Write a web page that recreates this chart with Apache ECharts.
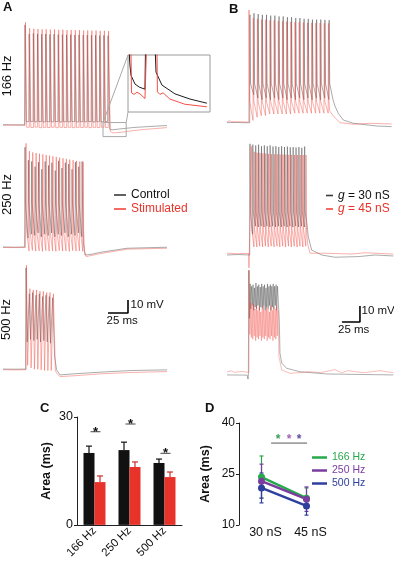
<!DOCTYPE html>
<html><head><meta charset="utf-8">
<script src="https://cdn.jsdelivr.net/npm/echarts@6/dist/echarts.min.js"></script>
<style>html,body{margin:0;padding:0;background:#fff}#c{width:394px;height:561px}</style>
</head><body><div id="c"></div>
<script>
// ================= DATA (time in ms, membrane potential in mV) =================
// ---- Panel A, 166 Hz ----
const a166CtrlPre = [[0,-64.8],[12,-65],[27,-64.9]];
const a166CtrlT = [27.5,32.7,37.9,43.1,48.3,53.4,58.6,63.8,69.0,74.2,79.4,84.6,89.8,95.0,100.2,105.3,110.5,115.7,120.9,126.1,131.3];
const a166CtrlPeak = [12,5,5.5,5,4.8,5,4.6,4.8,4.5,4.6,4.3,4.5,4.2,4.4,4.1,4.2,4,4.1,3.8,4,3.7];
const a166CtrlTrough = [-62.5,-62.3,-62.6,-62.4,-62.7,-62.5,-62.6,-62.4,-62.7,-62.5,-62.6,-62.4,-62.7,-62.5,-62.6,-62.4,-62.7,-62.5,-62.6,-62.5];
const a166CtrlPost = [[133.5,-68.3],[136.3,-68.8],[146,-68.1],[165,-66.9],[184,-66.2],[205,-65.5]];
const a166StimPre = [[0,-65.3],[12,-65.1],[27.5,-65.3]];
const a166StimT = [28.1,33.3,38.5,43.7,48.9,54.0,59.2,64.4,69.6,74.8,80.0,85.2,90.4,95.6,100.8,105.9,111.1,116.3,121.5,126.7,131.9];
const a166StimPeak = [14,9.5,9,8.8,8.6,8.7,8.4,8.5,8.2,8.3,8,8.1,7.9,8,7.7,7.8,7.6,7.7,7.4,7.5,7.3];
const a166StimTrough = [-66.8,-67,-66.7,-67.1,-66.9,-67,-66.8,-67.1,-66.9,-67,-66.8,-67.1,-66.9,-67,-66.8,-67.1,-66.9,-67,-66.8,-67];
const a166StimPost = [[134,-70],[137.5,-71.2],[146,-70.8],[165,-69.2],[184,-68.1],[205,-67.1]];
// inset (magnified end of the 166 Hz train)
const insetCtrl = [[0.3,-55],[0.6,-59.5],[1.06,-61.9],[2.47,-63.6],[4,-64.2],[6.0,-64.6],[6.36,-50],[9.19,-50],[9.9,-61.3],[12.0,-63.8],[16.6,-65.5],[21.9,-66.5],[27.9,-67.3]];
const insetStim = [[0.88,-50],[1.24,-65.3],[2.1,-65.6],[3.2,-65.2],[4.24,-65.5],[6.0,-66.4],[6.7,-66.5],[6.9,-50],[10.1,-50],[10.4,-65.1],[11.3,-65.6],[12.4,-65.3],[14.8,-66.5],[20.1,-67.5],[27.9,-68.0]];
const insetWindow = {t:[125,154], v:[-74,-63.2]};
// ---- Panel A, 250 Hz ----
const a250CtrlPre = [[0,-64.8],[14,-65],[27,-64.8]];
const a250CtrlT = [27.5,31.7,35.9,40.1,44.3,48.5,52.7,56.9,61.1,65.3,69.5,73.7,77.9,82.1,86.3,90.5,94.7,98.9];
const a250CtrlPeak = [12,2,1,-3,0.5,-5,1,-2,0,-6,1.5,-4,0,-1,-5,0.5,-3,1];
const a250CtrlKnee = -31;
const a250CtrlTrough = [-58,-55,-56,-54,-57,-55,-56,-54,-57,-55,-56,-54,-57,-55,-56,-54,-57];
const a250CtrlPost = [[100.5,-62],[102.5,-71],[110,-70.5],[121,-69],[155,-65.8],[205,-65]];
const a250StimPre = [[0,-65.2],[14,-65.3],[28,-65.2]];
const a250StimT = [28.8,33.0,37.2,41.4,45.6,49.8,54.0,58.2,62.4,66.6,70.8,75.0,79.2,83.4,87.6,91.8,96.0,100.2];
const a250StimPeak = [15,9,8,7.5,7,6.5,6,5.5,5,4.5,4,3.5,3,2.5,2,1.5,1,0.8];
const a250StimKnee = -52;
const a250StimTrough = [-68,-67.5,-68,-67.8,-68.2,-67.6,-68,-67.8,-68.2,-67.6,-68,-67.8,-68.2,-67.6,-68,-67.8,-68.2];
const a250StimPost = [[102,-68],[104,-72.2],[121,-70],[155,-66.5],[205,-65.8]];
// ---- Panel A, 500 Hz ----
const a500CtrlPre = [[0,-64.9],[14,-65],[28.3,-64.9]];
const a500CtrlT = [28.75,32.9,37.1,41.3,45.4,49.6,53.8,57.9,62.1];
const a500CtrlPeak = [13,-7,-6,-8,-7,-9,-8,-9,-10];
const a500CtrlTrough = [-44,-42,-43,-42,-44,-43,-44,-45];
const a500CtrlPost = [[64.5,-55],[67,-65.5],[71.3,-69.4],[90,-68.5],[121,-67.3],[160,-66],[205,-65.5]];
const a500StimPre = [[0,-65.4],[14,-65.5],[28.8,-65.4]];
const a500StimT = [29.3,33.6,37.8,42.0,46.2,50.4,54.6,58.8,63.0];
const a500StimPeak = [15,-3,-4,-4,-5,-5,-6,-6,-7];
const a500StimTrough = [-62,-64,-65,-65,-65.5,-66,-66,-66];
const a500StimPost = [[65.5,-66],[67,-68],[71.3,-70.7],[90,-70],[121,-68.6],[160,-67.5],[205,-66.8]];
const scaleBarA = {t:131.25, v:-21.7, dt:25, dv:10};
// ---- Panel B, row 1 (166 Hz) ----
const b1CtrlPre = [[0,-65.4],[15,-65.3],[31.5,-65.5]];
const b1CtrlT = [31.9,37.5,43.3,49.1,54.9,60.7,66.5,72.3,78.1,83.9,89.7,95.5,101.3,107.1,112.9,118.7,124.5,130.3,136.1,141.9];
const b1CtrlPeak = [2,3,2.5,2,2,1.5,1.5,1,1,0.5,0.5,0,0,-0.5,-0.5,-1,-1,-1,-1.2,-1.3];
const b1CtrlKnee = -41;
const b1CtrlTrough = [-48,-50,-51,-50,-51,-50,-51,-50,-51,-50,-51,-50,-51,-50,-51,-50,-51,-50,-51];
const b1CtrlPost = [[147.2,-51],[150,-55],[154.6,-59.6],[161.5,-63.75],[175.4,-65.8],[207.9,-67.5],[228.75,-67.9]];
const b1StimPre = [[0,-65],[3,-64.2],[6,-64.8],[30.2,-65]];
const b1StimT = [30.6,36.5,42.3,48.1,53.9,59.7,65.5,71.3,77.1,82.9,88.7,94.5,100.3,106.1,111.9,117.7,123.5,129.3,135.1,140.9];
const b1StimPeak = [5,0,-0.5,-1,-1,-1.5,-1.5,-2,-2,-2.2,-2.4,-2.5,-2.6,-2.8,-3,-3,-3.1,-3.2,-3.3,-3.3];
const b1StimKnee = -52;
const b1StimTrough = [-64,-62,-61,-61,-60,-60,-60,-60,-60,-60,-59.5,-59.5,-59.5,-59.5,-59.5,-59.5,-59.5,-59.5,-59.5];
const b1StimPost = [[142.5,-58],[148.6,-61.7],[156.9,-65.4],[175.4,-66.4],[198.6,-65.8],[228.75,-66.25]];
// ---- Panel B, row 2 (250 Hz) ----
const b2CtrlPre = [[0,-65],[15,-64.7],[31.5,-65]];
const b2CtrlT = [31.9,35.9,39.9,43.9,47.9,51.9,55.9,59.9,63.9,67.9,71.9,75.9,79.9,83.9,87.9,91.9,95.9,99.9,103.9,107.9];
const b2CtrlPeak = [4.5,4,3.5,4,3,3.5,3,3.5,2.8,3,2.5,3,2.5,2.8,2.3,2.5,2.2,2.5,2,2.8];
const b2CtrlKnee = -38;
const b2CtrlTrough = [-52,-47,-47.5,-47,-47.5,-47,-47.5,-47,-47.5,-47,-47.5,-47,-47.5,-47,-47.5,-47,-47.5,-47,-47.5];
const b2CtrlPost = [[111,-45],[112.9,-53.6],[117.6,-61.9],[131.5,-65],[150,-66.4],[182.4,-66],[205.6,-65],[231,-65.6]];
const b2StimPre = [[0,-63.9],[15,-64.2],[30,-64],[30.5,-73],[31,-64]];
const b2StimT = [33.8,37.8,41.8,45.8,49.8,53.8,57.8,61.8,65.8,69.8,73.8,77.8,81.8,85.8,89.8,93.8,97.8,101.8,105.8,109.8];
const b2StimPeak = [3,-0.5,-1,-1.2,-1.5,-1.5,-1.8,-2,-2,-2,-2.2,-2.2,-2.3,-2.4,-2.4,-2.5,-2.5,-2.5,-2.5,-2.5];
const b2StimKnee = -49;
const b2StimTrough = [-60,-60,-59.5,-60,-59.5,-60,-59.5,-60,-59.5,-60,-59.5,-60,-59.5,-60,-59.5,-60,-59.5,-60,-59.5];
const b2StimPost = [[112,-58],[115.3,-63.9],[136.1,-63.9],[173.2,-64.4],[191.7,-63.6],[231,-64.4]];
// ---- Panel B, row 3 (500 Hz) ----
const b3CtrlPre = [[0,-65.4],[28,-65.5],[29.2,-68],[29.7,-65.4]];
const b3CtrlT = [30.2,32.2,34.2,36.2,38.2,40.2,42.2,44.2,46.2,48.2,50.2,52.2,54.2,56.2,58.2,60.2,62.2,64.2,66.2,68.2,70.2];
const b3CtrlPeak = [0,-8.5,-10,-9,-11,-8,-10,-9,-10.5,-8.5,-10,-9,-11,-8.5,-10,-9,-10,-8.5,-10,-9,-10];
const b3CtrlTrough = [-30,-24,-22,-25,-23,-24,-22,-25,-23,-24,-22,-25,-23,-24,-22,-25,-23,-24,-22,-25];
const b3CtrlPost = [[72.6,-31],[73.6,-51.9],[76,-58],[82.9,-61.25],[101.4,-63.4],[138.5,-64.8],[231,-65.4]];
const b3StimPre = [[0,-63.5],[6,-62.8],[10,-63.8],[20,-63.2],[30.5,-63.8]];
const b3StimT = [30.9,32.9,34.9,36.9,38.9,40.9,42.9,44.9,46.9,48.9,50.9,52.9,54.9,56.9,58.9,60.9,62.9,64.9,66.9,68.9,70.9];
const b3StimPeak = [0,-20,-22,-21,-24,-22,-25,-23,-26,-24,-22,-25,-23,-24,-26,-22,-25,-23,-24,-22,-25];
const b3StimTrough = [-40,-42,-43,-41,-44,-42,-43,-41,-44,-42,-43,-41,-44,-42,-43,-41,-44,-42,-43,-41];
const b3StimPost = [[72.2,-54],[76,-62.3],[87.5,-64.4],[115.3,-63.4],[129.2,-64],[150,-62.1],[159.3,-64],[168.5,-62.75],[189.3,-64],[212.5,-62.75],[231,-64]];
const scaleBarB = {t:159.7, v:-32.3, dt:25, dv:10};
// ---- Panel C ----
const cCategories = ['166 Hz','250 Hz','500 Hz'];
const cControl = [20, 20.8, 17.2];
const cControlErr = [1.9, 2.2, 1.1];
const cStim = [11.9, 16.1, 13.3];
const cStimErr = [1.7, 1.4, 1.4];
const cSigLine = [25.9, 28.05, 19.9];
// ---- Panel D ----
const dConductance = [30, 45];
const d166 = [24.1, 17.9], d166Err = [6.2, 3.0];
const d250 = [22.9, 17.6], d250Err = [5.0, 3.6];
const d500 = [20.9, 15.6], d500Err = [4.4, 2.7];
const dSigStarX = [35.5, 39.2, 42.5];
const dSigStarY = 35.6;
const dSigBar = [[33.2, 34.1], [45.2, 34.1]];

// ================= BUILD =================
const FONT = "'Liberation Sans', Arial, Helvetica, sans-serif";
const CTRL = '#3a3a3a', STIM = '#f0463d';
const GREEN = '#27a94b', PURPLE = '#7b3c9f', BLUE = '#2e3f9e';

function spikeTrace(pre, times, peaks, troughs, post, o) {
  const pts = pre.slice();
  let prev = pre[pre.length - 1][1];
  for (let i = 0; i < times.length; i++) {
    const t = times[i];
    pts.push([t - o.rise, prev]);
    pts.push([t, peaks[i]]);
    if (o.knee !== undefined) pts.push([t + o.kneeDt, o.knee]);
    if (i < troughs.length) {
      const tEnd = o.knee !== undefined ? times[i + 1] - o.rise - 0.05 : t + o.fall;
      pts.push([tEnd, troughs[i]]);
      prev = troughs[i];
    }
  }
  return pts.concat(post);
}
function tr(name, data, color, gi, w, op) {
  return {type:'line', name, data, xAxisIndex:gi, yAxisIndex:gi, symbol:'none', showSymbol:false,
    lineStyle:{color, width:w || 0.6, opacity:op || 0.72}, itemStyle:{color}, silent:true, animation:false, clip:true};
}
const oA = {rise:0.4, fall:1.5};
const oB = {rise:0.3, fall:0.9};

const series = [
  tr('Control', spikeTrace(a166CtrlPre,a166CtrlT,a166CtrlPeak,a166CtrlTrough,a166CtrlPost,oA), CTRL, 0),
  tr('Stimulated', spikeTrace(a166StimPre,a166StimT,a166StimPeak,a166StimTrough,a166StimPost,oA), STIM, 0),
  tr('Control', spikeTrace(a250CtrlPre,a250CtrlT,a250CtrlPeak,a250CtrlTrough,a250CtrlPost,{rise:0.4,knee:a250CtrlKnee,kneeDt:0.5}), CTRL, 1),
  tr('Stimulated', spikeTrace(a250StimPre,a250StimT,a250StimPeak,a250StimTrough,a250StimPost,{rise:0.4,knee:a250StimKnee,kneeDt:0.6}), STIM, 1),
  tr('Control', spikeTrace(a500CtrlPre,a500CtrlT,a500CtrlPeak,a500CtrlTrough,a500CtrlPost,oA), CTRL, 2),
  tr('Stimulated', spikeTrace(a500StimPre,a500StimT,a500StimPeak,a500StimTrough,a500StimPost,oA), STIM, 2),
  tr('Control', insetCtrl, '#111', 3, 1, 0.95),
  tr('Stimulated', insetStim, STIM, 3, 1, 0.95),
  tr('g = 30 nS', spikeTrace(b1CtrlPre,b1CtrlT,b1CtrlPeak,b1CtrlTrough,b1CtrlPost,{rise:0.3,knee:b1CtrlKnee,kneeDt:0.8}), CTRL, 4),
  tr('g = 45 nS', spikeTrace(b1StimPre,b1StimT,b1StimPeak,b1StimTrough,b1StimPost,{rise:0.3,knee:b1StimKnee,kneeDt:0.8}), STIM, 4),
  tr('g = 30 nS', spikeTrace(b2CtrlPre,b2CtrlT,b2CtrlPeak,b2CtrlTrough,b2CtrlPost,{rise:0.3,knee:b2CtrlKnee,kneeDt:0.6}), CTRL, 5),
  tr('g = 45 nS', spikeTrace(b2StimPre,b2StimT,b2StimPeak,b2StimTrough,b2StimPost,{rise:0.3,knee:b2StimKnee,kneeDt:0.6}), STIM, 5),
  tr('g = 30 nS', spikeTrace(b3CtrlPre,b3CtrlT,b3CtrlPeak,b3CtrlTrough,b3CtrlPost,oB), CTRL, 6, 0.6, 0.68),
  tr('g = 45 nS', spikeTrace(b3StimPre,b3StimT,b3StimPeak,b3StimTrough,b3StimPost,oB), STIM, 6, 0.6, 0.6),
  // scale bars
  {type:'line', data:[[scaleBarA.t,scaleBarA.v],[scaleBarA.t+scaleBarA.dt,scaleBarA.v],[scaleBarA.t+scaleBarA.dt,scaleBarA.v+scaleBarA.dv]],
   xAxisIndex:2, yAxisIndex:2, symbol:'none', lineStyle:{color:'#000', width:1.6}, silent:true},
  {type:'line', data:[[scaleBarB.t,scaleBarB.v],[scaleBarB.t+scaleBarB.dt,scaleBarB.v],[scaleBarB.t+scaleBarB.dt,scaleBarB.v+scaleBarB.dv]],
   xAxisIndex:6, yAxisIndex:6, symbol:'none', lineStyle:{color:'#000', width:1.6}, silent:true}
];

// Panel C bars
series.push({type:'bar', name:'C control', data:cControl, xAxisIndex:7, yAxisIndex:7, barWidth:11, barGap:'0%', itemStyle:{color:'#111'}, silent:true});
series.push({type:'bar', name:'C stimulated', data:cStim, xAxisIndex:7, yAxisIndex:7, barWidth:11, barGap:'0%', itemStyle:{color:'#e8332a'}, silent:true});
function cErr(vals, errs, off, color) {
  return {type:'custom', xAxisIndex:7, yAxisIndex:7, silent:true, z:3,
    data: vals.map((v,i)=>[i, v, errs[i]]),
    renderItem: (p, api) => {
      const b = api.coord([api.value(0), api.value(1)]);
      const t = api.coord([api.value(0), api.value(1) + api.value(2)]);
      const x = b[0] + off;
      return {type:'group', children:[
        {type:'line', shape:{x1:x, y1:b[1], x2:x, y2:t[1]}, style:{stroke:color, lineWidth:1.2}},
        {type:'line', shape:{x1:x-3, y1:t[1], x2:x+3, y2:t[1]}, style:{stroke:color, lineWidth:1.2}}
      ]};
    }};
}
series.push(cErr(cControl, cControlErr, -5.5, '#111'));
series.push(cErr(cStim, cStimErr, 5.5, '#c9302a'));
series.push({type:'custom', xAxisIndex:7, yAxisIndex:7, silent:true, z:4,
  data: cSigLine.map((v,i)=>[i, v]),
  renderItem: (p, api) => {
    const c = api.coord([api.value(0), api.value(1)]);
    const x = c[0] + 1;
    return {type:'group', children:[
      {type:'line', shape:{x1:x-5, y1:c[1], x2:x+5, y2:c[1]}, style:{stroke:'#444', lineWidth:1}},
      {type:'text', x:x, y:c[1]+0.5, style:{text:'*', fontSize:13, fontWeight:'bold', fontFamily:FONT, fill:'#111', align:'center', verticalAlign:'middle'}}
    ]};
  }});

// Panel D
function dErr(vals, errs, color) {
  return {type:'custom', xAxisIndex:8, yAxisIndex:8, silent:true, z:2,
    data: vals.map((v,i)=>[dConductance[i], v, errs[i]]),
    renderItem: (p, api) => {
      const lo = api.coord([api.value(0), api.value(1) - api.value(2)]);
      const hi = api.coord([api.value(0), api.value(1) + api.value(2)]);
      const x = lo[0];
      return {type:'group', children:[
        {type:'line', shape:{x1:x, y1:lo[1], x2:x, y2:hi[1]}, style:{stroke:color, lineWidth:1.2}},
        {type:'line', shape:{x1:x-2, y1:lo[1], x2:x+2, y2:lo[1]}, style:{stroke:color, lineWidth:1.2}},
        {type:'line', shape:{x1:x-2, y1:hi[1], x2:x+2, y2:hi[1]}, style:{stroke:color, lineWidth:1.2}}
      ]};
    }};
}
series.push(dErr(d166, d166Err, GREEN), dErr(d250, d250Err, PURPLE), dErr(d500, d500Err, BLUE));
function dLine(name, vals, color) {
  return {type:'line', name, xAxisIndex:8, yAxisIndex:8, data: vals.map((v,i)=>[dConductance[i], v]),
    symbol:'circle', symbolSize:7, lineStyle:{color, width:2.5}, itemStyle:{color}, silent:true, z:3};
}
series.push(dLine('166 Hz', d166, GREEN), dLine('250 Hz', d250, PURPLE), dLine('500 Hz', d500, BLUE));
series.push({type:'line', data:dSigBar, xAxisIndex:8, yAxisIndex:8, symbol:'none', lineStyle:{color:'#a0a0a0', width:1.8}, silent:true});
const starColors = ['#3a9f55', '#a466b3', '#5a4ea0'];
series.push({type:'custom', xAxisIndex:8, yAxisIndex:8, silent:true, z:4,
  data: dSigStarX.map((x,i)=>[x, dSigStarY, i]),
  renderItem: (p, api) => {
    const c = api.coord([api.value(0), api.value(1)]);
    return {type:'text', x:c[0], y:c[1]+2, style:{text:'*', fontSize:12, fontWeight:'bold', fontFamily:FONT, fill:starColors[api.value(2)], align:'center', verticalAlign:'middle'}};
  }});

const hidden = {show:false};
const xAxis = [
  {type:'value', gridIndex:0, min:0, max:210, ...hidden},
  {type:'value', gridIndex:1, min:0, max:210, ...hidden},
  {type:'value', gridIndex:2, min:0, max:210, ...hidden},
  {type:'value', gridIndex:3, min:0, max:29, ...hidden},
  {type:'value', gridIndex:4, min:0, max:232, ...hidden},
  {type:'value', gridIndex:5, min:0, max:232, ...hidden},
  {type:'value', gridIndex:6, min:0, max:232, ...hidden},
  {type:'category', gridIndex:7, data:cCategories,
   axisLine:{lineStyle:{color:'#222', width:1}}, axisTick:{length:4, lineStyle:{color:'#222'}},
   axisLabel:{rotate:45, fontSize:11.5, color:'#111', margin:4, fontFamily:FONT}},
  {type:'value', gridIndex:8, min:22.5, max:52.5,
   axisLine:{show:false}, axisTick:{show:false}, splitLine:{show:false},
   axisLabel:{customValues:dConductance, formatter:(v)=>v+' nS', fontSize:12.5, color:'#111', margin:1, fontFamily:FONT, padding:[0,0,0,8]}}
];
const yAxis = [
  {type:'value', gridIndex:0, min:-77, max:20, ...hidden},
  {type:'value', gridIndex:1, min:-77, max:20, ...hidden},
  {type:'value', gridIndex:2, min:-77, max:20, ...hidden},
  {type:'value', gridIndex:3, min:-69, max:-58, ...hidden},
  {type:'value', gridIndex:4, min:-72, max:5, ...hidden},
  {type:'value', gridIndex:5, min:-75, max:8, ...hidden},
  {type:'value', gridIndex:6, min:-72, max:3, ...hidden},
  {type:'value', gridIndex:7, min:0, max:30, interval:30,
   axisLine:{show:true, lineStyle:{color:'#222'}}, axisTick:{show:true, length:3, lineStyle:{color:'#222'}},
   splitLine:{show:false}, axisLabel:{fontSize:12.5, color:'#111', margin:4, fontFamily:FONT},
   name:'Area (ms)', nameLocation:'middle', nameGap:24, nameTextStyle:{fontWeight:'bold', fontSize:12.5, color:'#111', fontFamily:FONT}},
  {type:'value', gridIndex:8, min:10, max:40, interval:15,
   axisLine:{show:true, lineStyle:{color:'#222'}}, axisTick:{show:true, length:3, lineStyle:{color:'#222'}},
   splitLine:{show:false}, axisLabel:{fontSize:12, color:'#111', margin:4, fontFamily:FONT},
   name:'Area (ms)', nameLocation:'middle', nameGap:27, nameTextStyle:{fontWeight:'bold', fontSize:12.5, color:'#111', fontFamily:FONT}}
];
const grid = [
  {left:3, top:14.5, width:168, height:126},
  {left:3, top:136.8, width:168, height:126},
  {left:3, top:258.8, width:168, height:126},
  {left:128, top:55, width:82, height:57, show:true, borderColor:'#9a9a9a', borderWidth:1, backgroundColor:'#fff'},
  {left:227, top:10, width:167, height:123.2},
  {left:227, top:138.2, width:167, height:132.8},
  {left:227, top:265.5, width:167, height:120},
  {left:77, top:417, width:105, height:108},
  {left:239, top:423, width:90, height:102}
];
const legend = [
  {orient:'vertical', left:109, top:184, icon:'rect', itemWidth:12, itemHeight:1.6, itemGap:2, selectedMode:false,
   textStyle:{fontSize:12, lineHeight:12, fontFamily:FONT},
   data:[{name:'Control', textStyle:{color:'#111'}}, {name:'Stimulated', textStyle:{color:'#e8332a'}}]},
  {orient:'vertical', left:321, top:184.5, icon:'rect', itemWidth:7, itemHeight:1.6, itemGap:1.5, selectedMode:false,
   formatter:(n)=>'{i|g}'+n.substring(1),
   textStyle:{fontSize:12, lineHeight:12, fontFamily:FONT, rich:{i:{fontStyle:'italic', fontSize:12, fontFamily:FONT}}},
   data:[{name:'g = 30 nS', textStyle:{color:'#111', rich:{i:{color:'#111', fontStyle:'italic'}}}},
         {name:'g = 45 nS', textStyle:{color:'#e8332a', rich:{i:{color:'#e8332a', fontStyle:'italic'}}}}]},
  {orient:'vertical', left:307, top:447, icon:'rect', itemWidth:15, itemHeight:2.5, itemGap:2, selectedMode:false,
   textStyle:{fontSize:10.5, lineHeight:10, fontFamily:FONT},
   data:[{name:'166 Hz', textStyle:{color:GREEN}}, {name:'250 Hz', textStyle:{color:PURPLE}}, {name:'500 Hz', textStyle:{color:BLUE}}]}
];

const chart = echarts.init(document.getElementById('c'), null, {renderer:'canvas'});
chart.setOption({animation:false, textStyle:{fontFamily:FONT}, grid, xAxis, yAxis, legend, series});

// ---------- annotations ----------
function txt(text, x, y, o) {
  o = o || {};
  return {type:'text', x, y, rotation:o.rot || 0, z:50, silent:true,
    style:{text, fontSize:o.size || 12, fontWeight:o.bold ? 'bold' : 'normal', fontFamily:FONT, fill:o.color || '#111',
      align:o.align || 'left', verticalAlign:o.va || 'middle'}};
}
const zTL = chart.convertToPixel({gridIndex:0}, [insetWindow.t[0], insetWindow.v[1]]);
const zBR = chart.convertToPixel({gridIndex:0}, [insetWindow.t[1], insetWindow.v[0]]);
const iTL = chart.convertToPixel({gridIndex:3}, [0, -58]);
const iBL = chart.convertToPixel({gridIndex:3}, [0, -69]);
const gray = {stroke:'#a8a8a8', lineWidth:1, fill:null};
const graphic = [
  txt('A', 3, 1, {bold:true, size:13, va:'top'}),
  txt('B', 229, 3, {bold:true, size:13, va:'top'}),
  txt('C', 40, 402, {bold:true, size:13, va:'top'}),
  txt('D', 205, 402, {bold:true, size:13, va:'top'}),
  txt('166 Hz', 7, 76, {size:13, align:'center', rot:Math.PI/2}),
  txt('250 Hz', 7.5, 194.5, {size:13, align:'center', rot:Math.PI/2}),
  txt('500 Hz', 6.5, 319.5, {size:13, align:'center', rot:Math.PI/2}),
  txt('10 mV', 130.5, 305, {size:11.5}),
  txt('25 ms', 106.5, 320.5, {size:11.5}),
  txt('10 mV', 361.5, 311, {size:11.5}),
  txt('25 ms', 338, 330, {size:11.5}),
  {type:'rect', z:40, silent:true, shape:{x:zTL[0], y:zTL[1], width:zBR[0]-zTL[0], height:zBR[1]-zTL[1]}, style:gray},
  {type:'line', z:40, silent:true, shape:{x1:zTL[0], y1:zTL[1], x2:iTL[0], y2:iTL[1]}, style:gray},
  {type:'line', z:40, silent:true, shape:{x1:zBR[0], y1:zTL[1], x2:iBL[0], y2:iBL[1]}, style:gray}
];
chart.setOption({graphic});
</script></body></html>
